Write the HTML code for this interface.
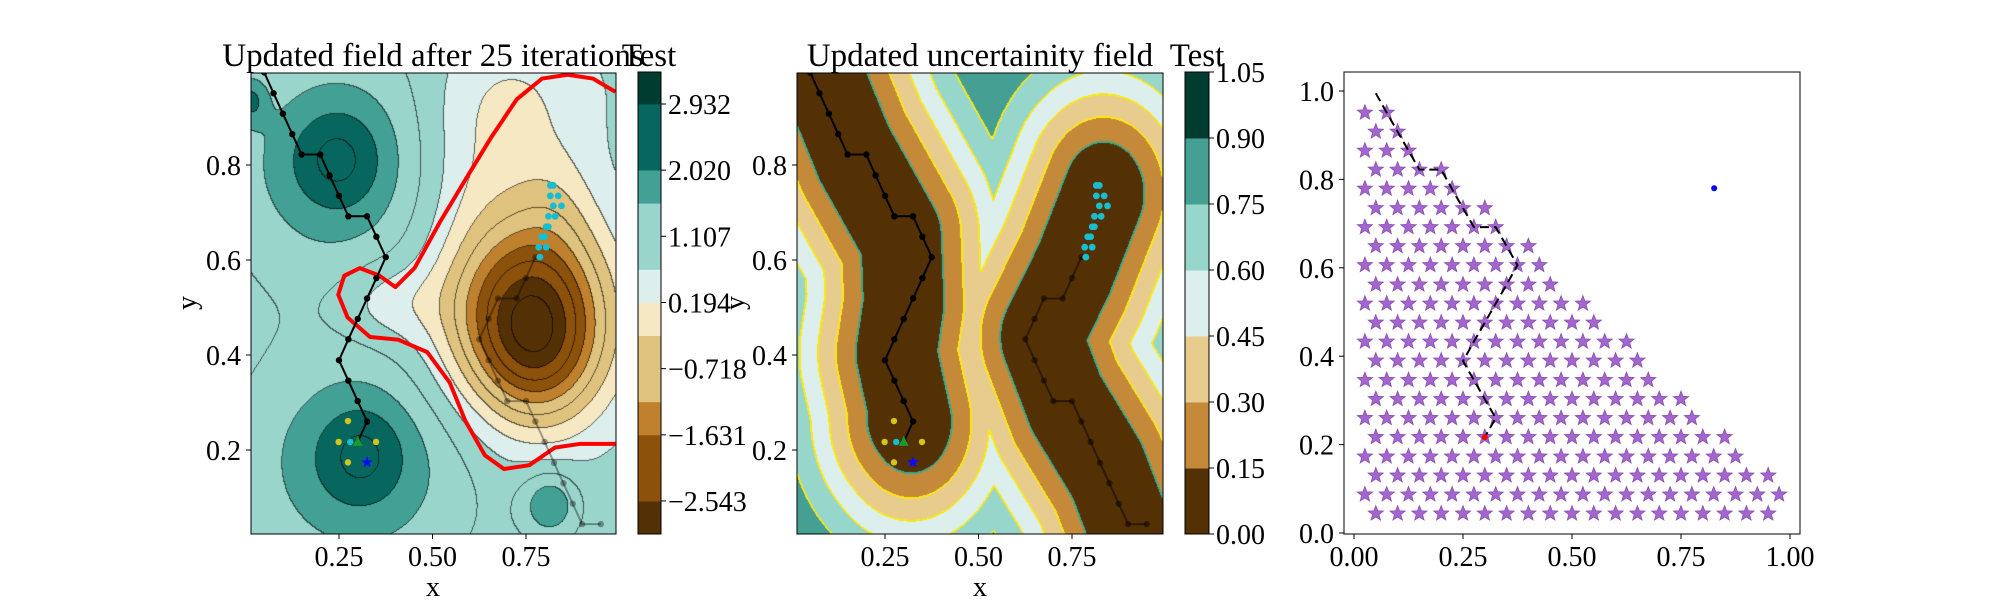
<!DOCTYPE html>
<html><head><meta charset="utf-8">
<style>
html,body{margin:0;padding:0;background:#fff;}
#wrap{position:relative;width:2000px;height:600px;overflow:hidden;background:#fff;}
canvas{position:absolute;}
svg{position:absolute;left:0;top:0;}
text{font-family:"Liberation Serif",serif;fill:#000;}
</style></head>
<body>
<div id="wrap">
<canvas id="c1" width="365" height="461" style="left:251px;top:73px"></canvas>
<canvas id="c2" width="366" height="461" style="left:797px;top:73px"></canvas>
<svg id="chart" width="2000" height="600"></svg>
</div>
<script>
// ---------- DATA ----------
const pathX = [0.05,0.075,0.1,0.125,0.15,0.2,0.225,0.25,0.275,0.325,0.35,0.375,0.35,0.325,0.3,0.275,0.25,0.275,0.3,0.325,0.3];
const pathY = [0.995,0.951,0.908,0.865,0.822,0.822,0.778,0.735,0.692,0.692,0.649,0.606,0.562,0.519,0.476,0.433,0.389,0.346,0.303,0.260,0.217];
const path2X = [0.775,0.75,0.725,0.675,0.65,0.625,0.65,0.675,0.7,0.75,0.775,0.8,0.825,0.85,0.875,0.9,0.95];
const path2Y = [0.606,0.562,0.519,0.519,0.476,0.433,0.389,0.346,0.303,0.303,0.260,0.217,0.173,0.130,0.087,0.044,0.044];
const cyanX = [0.787,0.784,0.804,0.792,0.80,0.81,0.804,0.81,0.828,0.823,0.845,0.815,0.836,0.815,0.823];
const cyanY = [0.606,0.627,0.627,0.649,0.649,0.670,0.670,0.692,0.692,0.714,0.714,0.735,0.735,0.757,0.757];
const yellowX = [0.274,0.249,0.349,0.274];
const yellowY = [0.261,0.217,0.217,0.174];
const cyanMarker = [0.28,0.217];
const greenMarker = [0.30,0.217];
const blueStar = [0.325,0.174];
const redX = [0.989,0.929,0.861,0.793,0.725,0.656,0.588,0.520,0.452,0.401,0.358,0.306,0.264,0.248,0.273,0.333,0.409,0.486,0.546,0.588,0.640,0.691,0.759,0.827,0.895,0.989];
const redY = [0.954,0.982,0.990,0.982,0.938,0.857,0.769,0.680,0.583,0.543,0.567,0.583,0.567,0.527,0.479,0.438,0.432,0.406,0.342,0.261,0.189,0.160,0.168,0.205,0.213,0.213];
const f1Base = 0.85;
const f1Cx  = [0.76,0.79,0.83,0.38,0.75,0.62,0.246,0.246,0.31,0.30,0.015,0.815];
const f1Cy  = [0.48,0.38,0.72,0.51,0.95,0.80,0.813,0.80,0.19,0.17,0.935,0.085];
const f1Amp = [-3.7,-0.7,-0.5,-0.6,-0.5,-0.6,0.7,1.1,0.7,1.1,0.9,1.1];
const f1Sx  = [0.15,0.10,0.08,0.10,0.15,0.12,0.08,0.20,0.08,0.21,0.03,0.055];
const f1Sy  = [0.14,0.10,0.10,0.06,0.10,0.15,0.07,0.17,0.07,0.17,0.035,0.05];
const cb1Ticks = [2.932,2.020,1.107,0.194,-0.718,-1.631,-2.543];
const cb1Labels = ["2.932","2.020","1.107","0.194","\u22120.718","\u22121.631","\u22122.543"];
const cb1Colors = ["#543005","#8c510a","#8c510a","#bf812d","#dfc27d","#dfc27d","#f6e8c3","#dcefec","#99d5cb","#99d5cb","#42a095","#07675e","#07675e","#003c30"];
const ribAX = [0.07,0.079,0.167,0.293,0.30,0.28,0.32,0.31];
const ribAY = [1.03,0.995,0.825,0.648,0.509,0.404,0.26,0.27];
const ribBX = [0.835,0.755,0.667,0.734,0.843,0.91,0.93];
const ribBY = [0.74,0.579,0.438,0.299,0.158,0.02,-0.03];
const cb2Ticks = [0.00,0.15,0.30,0.45,0.60,0.75,0.90,1.05];
const cb2Colors = ["#543005","#c5893a","#e8cc8e","#dcefec","#97d6ca","#45a093","#003c30"];
const rowY = [0.044,0.087,0.130,0.173,0.217,0.260,0.303,0.346,0.390,0.433,0.476,0.519,0.562,0.606,0.649,0.692,0.735,0.779,0.822,0.865,0.908,0.951];
const rowStart = [0.05,0.025,0.05,0.025,0.05,0.025,0.05,0.025,0.05,0.025,0.05,0.025,0.05,0.025,0.05,0.025,0.05,0.025,0.05,0.025,0.05,0.025];
const rowEnd = [0.95,0.975,0.95,0.875,0.85,0.775,0.75,0.675,0.65,0.625,0.55,0.525,0.45,0.425,0.40,0.325,0.30,0.225,0.20,0.125,0.10,0.075];
const p3Point = [0.826,0.78];
const p3Red = [0.3,0.217];
const xTicks12 = [0.25,0.50,0.75];
const xTickLabels12 = ["0.25","0.50","0.75"];
const yTicks12 = [0.2,0.4,0.6,0.8];
const yTickLabels12 = ["0.2","0.4","0.6","0.8"];
const xTicks3 = [0,0.25,0.5,0.75,1.0];
const xTickLabels3 = ["0.00","0.25","0.50","0.75","1.00"];
const yTicks3 = [0,0.2,0.4,0.6,0.8,1.0];
const yTickLabels3 = ["0.0","0.2","0.4","0.6","0.8","1.0"];

// ---------- AXES ----------
const X1 = x => 339 + (x - 0.25) * 374;
const Y1 = y => 450 - (y - 0.2) * 475;
const X2 = x => X1(x) + 546;
const X3 = x => 1354 + x * 436;
const Y3 = y => 533 - y * 442;
const CB1 = v => 104 + (2.932 - v) * 72.5;
const CB2 = v => 534 - v * 440;
const box1 = [251,73,616,534], box2 = [797,73,1163,534], box3 = [1344,72,1800,534];
const TF = 28, TITF = 33;

const NS = 'http://www.w3.org/2000/svg';
const svg = document.getElementById('chart');
function mk(tag, attrs, parent){const e=document.createElementNS(NS,tag);for(const k in attrs)e.setAttribute(k,attrs[k]);(parent||svg).appendChild(e);return e;}

// ---------- FIELDS ----------
function field1(x,y){let f=f1Base;for(let i=0;i<f1Cx.length;i++){const dx=(x-f1Cx[i])/f1Sx[i],dy=(y-f1Cy[i])/f1Sy[i];f+=f1Amp[i]*Math.exp(-0.5*(dx*dx+dy*dy));}return f;}
function segDist(px,py,ax,ay,bx,by){const vx=bx-ax,vy=by-ay;let t=((px-ax)*vx+(py-ay)*vy)/(vx*vx+vy*vy);t=Math.max(0,Math.min(1,t));const dx=px-ax-t*vx,dy=py-ay-t*vy;return Math.sqrt(dx*dx+dy*dy);}
function polyDist(px,py,xs,ys){let d=1e9;for(let i=0;i<xs.length-1;i++)d=Math.min(d,segDist(px,py,xs[i],ys[i],xs[i+1],ys[i+1]));return d;}
function field2(x,y){const d=Math.min(polyDist(x,y,ribAX,ribAY),polyDist(x,y,ribBX,ribBY));return 1-Math.exp(-Math.pow(d/0.27,2));}
function hex(c){return [parseInt(c.substr(1,2),16),parseInt(c.substr(3,2),16),parseInt(c.substr(5,2),16)];}

function renderCanvas(id,box,xoff,fn,levelIdx,colors,lineColor){
  const cv=document.getElementById(id),ctx=cv.getContext('2d');const w=cv.width,h=cv.height;
  const img=ctx.createImageData(w,h);const L=new Int32Array(w*h);
  for(let j=0;j<h;j++)for(let i=0;i<w;i++){const X=box[0]+i+0.5,Y=box[1]+j+0.5;const x=0.25+(X-xoff-339)/374,y=0.2+(450-Y)/475;L[j*w+i]=levelIdx(fn(x,y));}
  const cols=colors.map(hex);
  for(let k=0;k<w*h;k++){const c=cols[Math.max(0,Math.min(cols.length-1,L[k]))];img.data[4*k]=c[0];img.data[4*k+1]=c[1];img.data[4*k+2]=c[2];img.data[4*k+3]=255;}
  for(let j=0;j<h;j++)for(let i=0;i<w;i++){const k=j*w+i;const ns=[];if(i<w-1&&L[k]!==L[k+1])ns.push(k+1);if(j<h-1&&L[k]!==L[k+w])ns.push(k+w);
    if(ns.length){const lc=lineColor(Math.min(L[k],L[ns[0]]));const targets=lc.w>1?[k].concat(ns):[k];
      for(const t of targets){for(let q=0;q<3;q++)img.data[4*t+q]=Math.round(img.data[4*t+q]*(1-lc.a)+lc.c[q]*lc.a);}}}
  ctx.putImageData(img,0,0);
}
renderCanvas('c1',box1,0,field1,f=>Math.floor((f+3.0)/0.4565),cb1Colors,()=>({c:[0,0,0],a:0.6,w:1}));
renderCanvas('c2',box2,546,field2,u=>Math.min(6,Math.floor(u/0.15)),cb2Colors,l=>l===0?{c:[60,170,140],a:1,w:2}:{c:[250,232,20],a:1,w:2});

// ---------- SVG HELPERS ----------
const defs=mk('defs',{});
function clip(id,b){const cp=mk('clipPath',{id:id},defs);mk('rect',{x:b[0],y:b[1],width:b[2]-b[0],height:b[3]-b[1]},cp);}
clip('cl1',box1);clip('cl2',box2);clip('cl3',box3);

function drawPath(g,xs,ys,X,Y,op,name){
  const pl=mk('polyline',{points:xs.map((x,i)=>X(x)+','+Y(ys[i])).join(' '),fill:'none',stroke:'#000','stroke-width':2,'stroke-opacity':op},g);
  
  
  xs.forEach((x,i)=>{const c=mk('circle',{cx:X(x),cy:Y(ys[i]),r:3.2,fill:'#000','fill-opacity':op},g);
    
    });
}
function starPts(cx,cy,R,r){let s=[];for(let i=0;i<10;i++){const a=-Math.PI/2+i*Math.PI/5,rr=i%2?r:R;s.push((cx+rr*Math.cos(a)).toFixed(1)+','+(cy+rr*Math.sin(a)).toFixed(1));}return s.join(' ');}
function markers(g,X,Y){
  cyanX.forEach((x,i)=>{const c=mk('circle',{cx:X(x),cy:Y(cyanY[i]),r:3.4,fill:'#17becf'},g);
    
    });
  yellowX.forEach((x,i)=>{const c=mk('circle',{cx:X(x),cy:Y(yellowY[i]),r:3.2,fill:'#d2c61c'},g);
    
    });
  const cm=mk('circle',{cx:X(cyanMarker[0]),cy:Y(cyanMarker[1]),r:3.2,fill:'#17becf'},g);
  
  
  const gx=X(greenMarker[0]),gy=Y(greenMarker[1]);
  const tr=mk('polygon',{points:`${gx},${gy-6} ${gx-5},${gy+4} ${gx+5},${gy+4}`,fill:'#1a9a2a'},g);
  
  
  const bs=mk('polygon',{points:starPts(X(blueStar[0]),Y(blueStar[1]),6,2.6),fill:'#0a0aff'},g);
  
  
}
function txt(s,x,y,size,anchor,name,extra){const t=mk('text',Object.assign({x:x,y:y,'font-size':size,'text-anchor':anchor},extra||{}));t.textContent=s;
  
  return t;}
function axesTicks(b,X,Y,xt,xl,yt,yl,prefix){
  xt.forEach((v,i)=>{const x=X(v);const tk=mk('line',{x1:x,x2:x,y1:b[3],y2:b[3]+5,stroke:'#000','stroke-width':1});
    
    
    txt(xl[i],x,566,TF,'middle',prefix+'-x-tick-label');});
  yt.forEach((v,i)=>{const y=Y(v);const tk=mk('line',{x1:b[0]-5,x2:b[0],y1:y,y2:y,stroke:'#000','stroke-width':1});
    
    
    txt(yl[i],b[0]-10,y+10,TF,'end',prefix+'-y-tick-label');});
  const fr=mk('rect',{x:b[0],y:b[1],width:b[2]-b[0],height:b[3]-b[1],fill:'none',stroke:'#000','stroke-width':1});
  
  
}

// ---------- PANEL 1 ----------
const g1=mk('g',{'clip-path':'url(#cl1)'});


const red=mk('polyline',{points:redX.map((x,i)=>X1(x)+','+Y1(redY[i])).join(' '),fill:'none',stroke:'#ff0000','stroke-width':4,'stroke-linejoin':'round'},g1);


drawPath(g1,path2X,path2Y,X1,Y1,0.35,'faded-path');
drawPath(g1,pathX,pathY,X1,Y1,1,'sample-path');
markers(g1,X1,Y1);
axesTicks(box1,X1,Y1,xTicks12,xTickLabels12,yTicks12,yTickLabels12,'field');
txt('Updated field after 25 iterations',433,66,TITF,'middle','field-title');
txt('x',433,596,TF,'middle','field-x-axis-title');
txt('y',196,303,TF,'middle','field-y-axis-title',{transform:'rotate(-90 196 303)'});

for(let k=0;k<cb1Colors.length;k++){const v0=-3.0+k*0.4565,v1=v0+0.4565;const yt=Math.max(72,CB1(v1)),yb=Math.min(534,CB1(v0));
  const r=mk('rect',{x:638,y:yt,width:23,height:yb-yt+0.5,fill:cb1Colors[k]});
  
  }
const cbf1=mk('rect',{x:638,y:72,width:23,height:462,fill:'none',stroke:'#000','stroke-width':1});


cb1Ticks.forEach((v,i)=>{const y=CB1(v);const tk=mk('line',{x1:661,x2:666,y1:y,y2:y,stroke:'#000'});
  
  
  txt(cb1Labels[i],668,y+10,TF,'start','colorbar-tick-label');});
txt('Test',649,66,TITF,'middle','field-colorbar-title');

// ---------- PANEL 2 ----------
const g2=mk('g',{'clip-path':'url(#cl2)'});


drawPath(g2,path2X,path2Y,X2,Y1,0.45,'faded-path');
drawPath(g2,pathX,pathY,X2,Y1,1,'sample-path');
markers(g2,X2,Y1);
axesTicks(box2,X2,Y1,xTicks12,xTickLabels12,yTicks12,yTickLabels12,'uncertainty');
txt('Updated uncertainity field',980,66,TITF,'middle','uncertainty-title');
txt('x',980,596,TF,'middle','uncertainty-x-axis-title');
txt('y',744,303,TF,'middle','uncertainty-y-axis-title',{transform:'rotate(-90 744 303)'});
for(let k=0;k<cb2Colors.length;k++){const yt=CB2(cb2Ticks[k+1]),yb=CB2(cb2Ticks[k]);
  const r=mk('rect',{x:1185,y:yt,width:24,height:yb-yt+0.5,fill:cb2Colors[k]});
  
  }
const cbf2=mk('rect',{x:1185,y:72,width:24,height:462,fill:'none',stroke:'#000','stroke-width':1});


cb2Ticks.forEach(v=>{const y=CB2(v);const tk=mk('line',{x1:1209,x2:1214,y1:y,y2:y,stroke:'#000'});
  
  
  txt(v.toFixed(2),1216,y+10,TF,'start','colorbar-tick-label');});
txt('Test',1197,66,TITF,'middle','uncertainty-colorbar-title');

// ---------- PANEL 3 ----------
const g3=mk('g',{'clip-path':'url(#cl3)'});


rowY.forEach((y,i)=>{for(let x=rowStart[i];x<=rowEnd[i]+1e-6;x+=0.05){
  const s=mk('polygon',{points:starPts(X3(x),Y3(y),8,3.4),fill:'#a366cc',stroke:'#8a4fb8','stroke-width':0.8},g3);
  
  }});
const dash=mk('polyline',{points:pathX.map((x,i)=>X3(x)+','+Y3(pathY[i])).join(' '),fill:'none',stroke:'#000','stroke-width':2,'stroke-dasharray':'9,5'},g3);


const rd=mk('circle',{cx:X3(p3Red[0]),cy:Y3(p3Red[1]),r:3,fill:'#ff0000'},g3);


const bd=mk('circle',{cx:X3(p3Point[0]),cy:Y3(p3Point[1]),r:3,fill:'#0000ff'},g3);


axesTicks(box3,X3,Y3,xTicks3,xTickLabels3,yTicks3,yTickLabels3,'grid');
</script>
</body></html>
